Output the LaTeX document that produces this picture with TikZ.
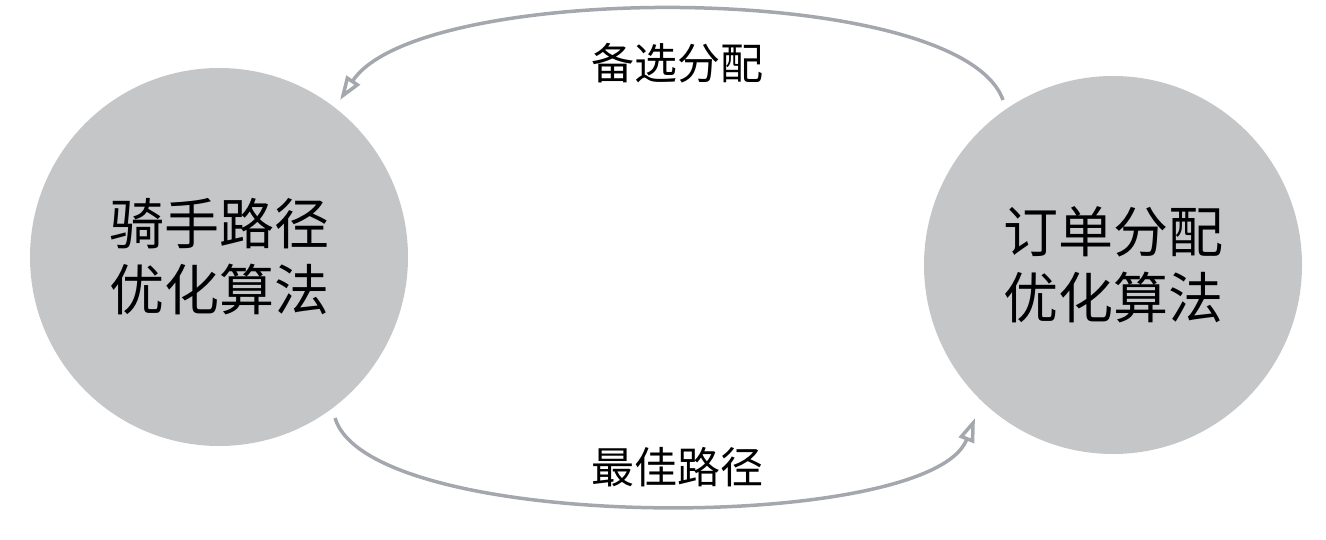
\documentclass[tikz,border=0pt]{standalone}
\usepackage{fontspec}
\newfontfamily\cjk{Noto Sans CJK SC}
\usetikzlibrary{arrows.meta}
\definecolor{circfill}{HTML}{C4C6C8}
\definecolor{arcline}{HTML}{A4A8AE}
\tikzset{
  algo/.style={circle, fill=circfill, minimum size=378pt, inner sep=0pt, align=center, font=\cjk\fontsize{55}{66}\selectfont},
  flow/.style={draw=arcline, line width=3.5pt, -{Triangle[open, length=24pt, width=16pt, line width=3.5pt]}},
  lbl/.style={font=\cjk\fontsize{43}{50}\selectfont, inner sep=0pt}
}
\begin{document}
\begin{tikzpicture}[x=1pt,y=-1pt]
\useasboundingbox (0,0) rectangle (1326,540);
\node[algo] (rider) at (219,257) {骑手路径\\优化算法};
\node[algo] (order) at (1113,265) {订单分配\\优化算法};
\coordinate (ts) at (1003,100);
\coordinate (te) at (340,100);
\coordinate (bs) at (335,418);
\coordinate (be) at (975,418);
\draw[flow] (ts) .. controls (960,-20) and (420,-20) .. (te);
\draw[flow] (bs) .. controls (370,534) and (930,534) .. (be);
\node[lbl] (top) at (677,63) {备选分配};
\node[lbl] (bot) at (677,467) {最佳路径};
\end{tikzpicture}
\end{document}
